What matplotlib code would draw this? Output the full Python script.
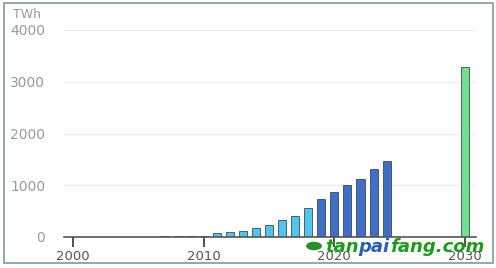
import matplotlib
matplotlib.use("Agg")
from matplotlib import pyplot
from matplotlib.patches import Rectangle, Circle

years = [2007, 2008, 2009, 2010, 2011, 2012, 2013, 2014, 2015, 2016, 2017, 2018,
         2019, 2020, 2021, 2022, 2023, 2024, 2030]
twh = [20, 22, 24, 26, 77, 97, 116, 182, 240, 336, 414, 569,
       730, 865, 1006, 1122, 1316, 1478, 3290]
groups = ['early'] * 4 + ['light'] * 8 + ['dark'] * 6 + ['target']
colors = {'early': '#4a5560', 'light': '#52c5ee', 'dark': '#3f6fc6', 'target': '#6fe08f'}
y_ticks = [0, 1000, 2000, 3000, 4000]
x_ticks = [2000, 2010, 2020, 2030]

fig = pyplot.figure(figsize=(4.96, 2.68), dpi=100)
ax = fig.add_axes([64 / 496, 31 / 268, 412 / 496, 207 / 268])

ax.bar(years, twh, width=0.62, color=[colors[g] for g in groups],
       edgecolor='#3c4a55', linewidth=0.6, zorder=3)

ax.set_xlim(1999.31, 2030.84)
ax.set_ylim(0, 4000)
ax.set_yticks(y_ticks)
ax.set_xticks(x_ticks)
ax.set_yticklabels([str(v) for v in y_ticks])
ax.set_xticklabels([str(v) for v in x_ticks])
ax.tick_params(axis='y', length=0, pad=13.5, labelsize=10, labelcolor='#9a9a9a')
ax.tick_params(axis='x', length=7, width=1.2, color='#333333', pad=2,
               labelsize=9.5, labelcolor='#555555')
ax.grid(axis='y', color='#ececec', linewidth=1, zorder=0)
for s in ['top', 'right', 'left']:
    ax.spines[s].set_visible(False)
ax.spines['bottom'].set_color('#555555')
ax.spines['bottom'].set_linewidth(1.2)
ax.spines['bottom'].set_zorder(4)

fig.text(13 / 496, 1 - 14 / 268, 'TWh', fontsize=9, color='#9a9a9a', va='center')

# image frame
fig.patches.append(Rectangle((4 / 496, 5 / 268), 489 / 496, 260 / 268,
                             transform=fig.transFigure, fill=False,
                             edgecolor='#7f9a9c', linewidth=1.2))

# watermark
fig.patches.append(Circle((314 / 496, 1 - 246 / 268), 0.016, transform=fig.transFigure,
                          facecolor='#2e8b2e', edgecolor='none'))
wm_y = 1 - 247 / 268
fig.text(325 / 496, wm_y, 'tan', fontsize=13, fontweight='bold', fontstyle='italic',
         color='#1f9a1f', va='center')
fig.text(358 / 496, wm_y, 'pai', fontsize=13, fontweight='bold', fontstyle='italic',
         color='#2a5fb0', va='center')
fig.text(390 / 496, wm_y, 'fang.com', fontsize=13, fontweight='bold', fontstyle='italic',
         color='#1f9a1f', va='center')

fig.savefig('out.png', dpi=100)
